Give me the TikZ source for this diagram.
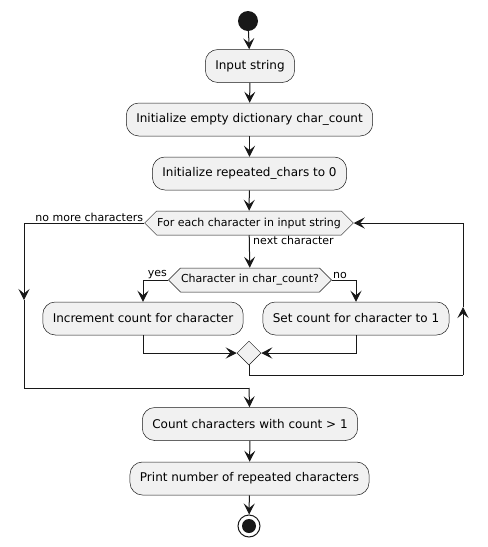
\documentclass[tikz,border=0pt]{standalone}
\usepackage{fontspec}
\setmainfont{DejaVu Sans}
\usetikzlibrary{arrows.meta,shapes.geometric,shapes.symbols}
\definecolor{boxfill}{HTML}{F1F1F1}
\definecolor{ink}{HTML}{181818}

\begin{document}
\begin{tikzpicture}[x=1pt,y=-1pt]
    \tikzstyle{ActionStyle}=[draw=ink, fill=boxfill, line width=0.5pt, rounded corners=12.5pt,
                             minimum height=33pt, inner xsep=10pt, font=\fontsize{12}{14}\selectfont]
    \tikzstyle{HexStyle}=[draw=ink, fill=boxfill, line width=0.5pt, shape=signal, signal to=west and east,
                          signal pointer angle=90, minimum height=24pt, inner xsep=0.5pt, font=\fontsize{11}{13}\selectfont]
    \tikzstyle{MergeStyle}=[draw=ink, fill=boxfill, line width=0.5pt, shape=diamond, minimum size=24pt, inner sep=0pt]
    \tikzstyle{LabelStyle}=[inner sep=1pt, font=\fontsize{11}{13}\selectfont]
    \tikzstyle{EdgeStyle}=[draw=ink, line width=1pt, -{Stealth[length=11pt,width=11pt,inset=4.5pt]}]
    \tikzstyle{LineStyle}=[draw=ink, line width=1pt]
    \useasboundingbox (0,0) rectangle (488,547);
    % nodes
    \node[circle, fill=ink, minimum size=20pt, inner sep=0pt] (start) at (248,21) {};
    \node[ActionStyle] (input) at (250,66) {Input string};
    \node[ActionStyle] (init) at (249.5,119.5) {Initialize empty dictionary char\_count};
    \node[ActionStyle] (rep) at (249.5,173.5) {Initialize repeated\_chars to 0};
    \node[HexStyle] (loop) at (249,223) {For each character in input string};
    \node[HexStyle] (test) at (250,280) {Character in char\_count?};
    \node[ActionStyle] (inc) at (143,318.5) {Increment count for character};
    \node[ActionStyle] (set) at (356,318.5) {Set count for character to 1};
    \node[MergeStyle] (merge) at (249,353) {};
    \node[ActionStyle] (count) at (250,424) {Count characters with count > 1};
    \node[ActionStyle] (print) at (249.5,478.5) {Print number of repeated characters};
    \node[circle, draw=ink, line width=1pt, minimum size=22pt, inner sep=0pt] (stop) at (249,526) {};
    \node[circle, fill=ink, minimum size=14pt, inner sep=0pt] at (stop) {};
    % labels
    \node[LabelStyle, anchor=south east] (nomore) at (loop.west) {no more characters};
    \node[LabelStyle, anchor=north west] (next) at ([xshift=3pt]loop.south) {next character};
    \node[LabelStyle, anchor=south east] (yes) at (test.west) {yes};
    \node[LabelStyle, anchor=south west] (no) at (test.east) {no};
    % loop corners
    \coordinate (lefttop) at (24,223);
    \coordinate (leftmid) at (24,300);
    \coordinate (leftbot) at (24,388);
    \coordinate (join) at (249,388);
    \coordinate (rightbot) at (463,375);
    \coordinate (rightmid) at (463,307);
    \coordinate (righttop) at (463,223);
    \coordinate (mergebot) at (249,375);
    % edges
    \draw[EdgeStyle] (start) -- (input);
    \draw[EdgeStyle] (input) -- (init);
    \draw[EdgeStyle] (init) -- (rep);
    \draw[EdgeStyle] (rep) -- (loop);
    \draw[EdgeStyle] (loop) -- (test);
    \draw[EdgeStyle] (test.west) -| (inc);
    \draw[EdgeStyle] (test.east) -| (set);
    \draw[EdgeStyle] (inc) |- (merge.west);
    \draw[EdgeStyle] (set) |- (merge.east);
    \draw[LineStyle] (merge.south) -- (mergebot) -- (rightbot);
    \draw[EdgeStyle] (rightbot) -- (rightmid);
    \draw[LineStyle] (rightmid) -- (righttop);
    \draw[EdgeStyle] (righttop) -- (loop.east);
    \draw[LineStyle] (loop.west) -- (lefttop);
    \draw[EdgeStyle] (lefttop) -- (leftmid);
    \draw[LineStyle] (leftmid) -- (leftbot) -- (join);
    \draw[EdgeStyle] (join) -- (count);
    \draw[EdgeStyle] (count) -- (print);
    \draw[EdgeStyle] (print) -- (stop);
  \end{tikzpicture}
\end{document}
